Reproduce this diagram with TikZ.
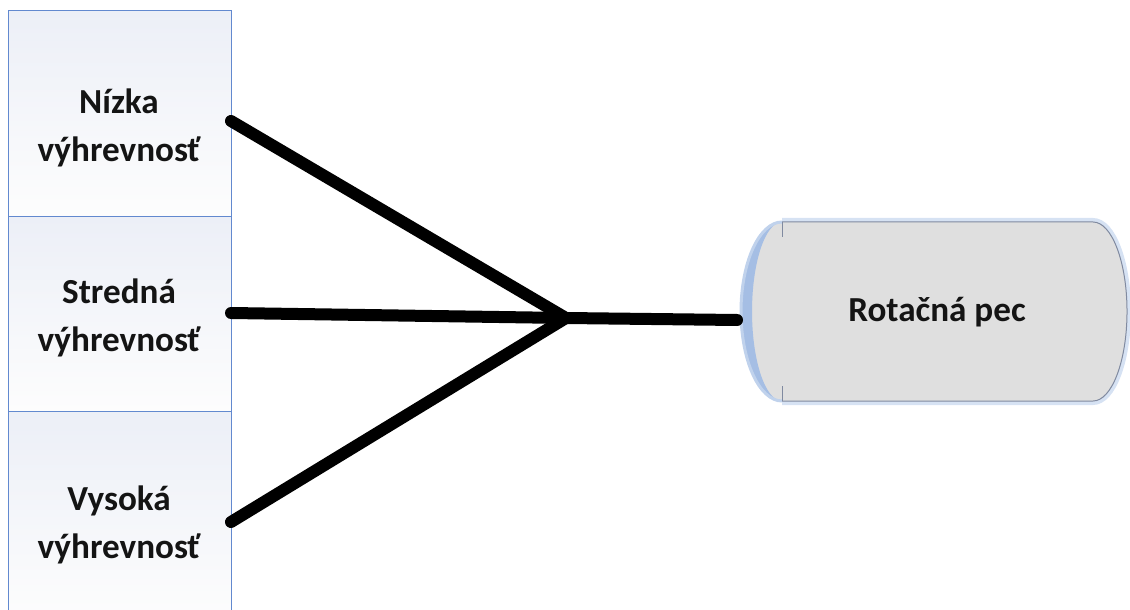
\documentclass[tikz,border=0pt]{standalone}
\usepackage{fontspec}
\setmainfont{Carlito}
\usetikzlibrary{calc}

\definecolor{boxedge}{RGB}{98,137,207}
\definecolor{boxtop}{RGB}{236,239,247}
\definecolor{boxbot}{RGB}{253,253,253}
\definecolor{pecfill}{RGB}{223,223,223}
\definecolor{pecedge}{RGB}{128,138,160}
\definecolor{pecglow}{RGB}{165,190,228}

\begin{document}
\begin{tikzpicture}[
    box/.style={draw=boxedge, line width=0.1mm, top color=boxtop, bottom color=boxbot,
      minimum width=2.23cm, anchor=north west, inner sep=0pt},
    txt/.style={font=\bfseries\fontsize{10}{13.6}\selectfont, align=center, text=black!92},
    feed/.style={line width=1.2mm, line cap=round}
  ]
      \useasboundingbox (0, 0) rectangle (11.3, 6.09);

      \node[box, minimum height=2.06cm] (low) at (0.08, 5.99) {};
      \node[box, minimum height=1.95cm] (mid) at (0.08, 3.93) {};
      \node[box, minimum height=2.10cm] (high) at (0.08, 1.98) {};

      \node[txt] (lowT) at (1.19, 4.81) {Nízka\\výhrevnosť};
      \node[txt] (midT) at (1.19, 2.91) {Stredná\\výhrevnosť};
      \node[txt] (highT) at (1.19, 0.84) {Vysoká\\výhrevnosť};

      \coordinate (lowOut) at (2.31, 4.88);
      \coordinate (midOut) at (2.31, 2.96);
      \coordinate (highOut) at (2.31, 0.87);
      \coordinate (join) at (5.66, 2.91);
      \coordinate (pecIn) at (7.37, 2.89);

      \coordinate (pecNW) at (7.82, 3.87);
      \coordinate (pecNE) at (10.93, 3.87);
      \coordinate (pecSE) at (10.93, 2.08);
      \coordinate (pecSW) at (7.82, 2.08);

      % rotary kiln
      \draw[pecglow, opacity=0.45, line width=0.8mm]
        (pecNW) -- (pecNE) arc[start angle=90, end angle=-90, x radius=0.34, y radius=0.895]
        -- (pecSW);
      \fill[pecfill] (pecSW) -- (pecSE)
        arc[start angle=-90, end angle=90, x radius=0.34, y radius=0.895]
        -- (pecNW) arc[start angle=90, end angle=270, x radius=0.41, y radius=0.895] -- cycle;
      \fill[pecglow]
        (pecNW) arc[start angle=90, end angle=270, x radius=0.41, y radius=0.895]
        arc[start angle=270, end angle=90, x radius=0.30, y radius=0.895];
      \draw[pecglow!70!white, line width=0.3mm]
        (pecNW) arc[start angle=90, end angle=270, x radius=0.41, y radius=0.895];
      \draw[pecedge, line width=0.1mm]
        (pecNW) -- (pecNE) arc[start angle=90, end angle=-90, x radius=0.34, y radius=0.895]
        -- (pecSW);
      \draw[pecedge, line width=0.1mm] (pecNW) -- ++(0, -0.15);
      \draw[pecedge, line width=0.1mm] (pecSW) -- ++(0, 0.15);
      \node[txt] (pec) at (9.37, 2.97) {Rotačná pec};

      \draw[feed] (lowOut) -- (join);
      \draw[feed] (midOut) -- (join);
      \draw[feed] (highOut) -- (join);
      \draw[feed] (join) -- (pecIn);
\end{tikzpicture}
\end{document}
